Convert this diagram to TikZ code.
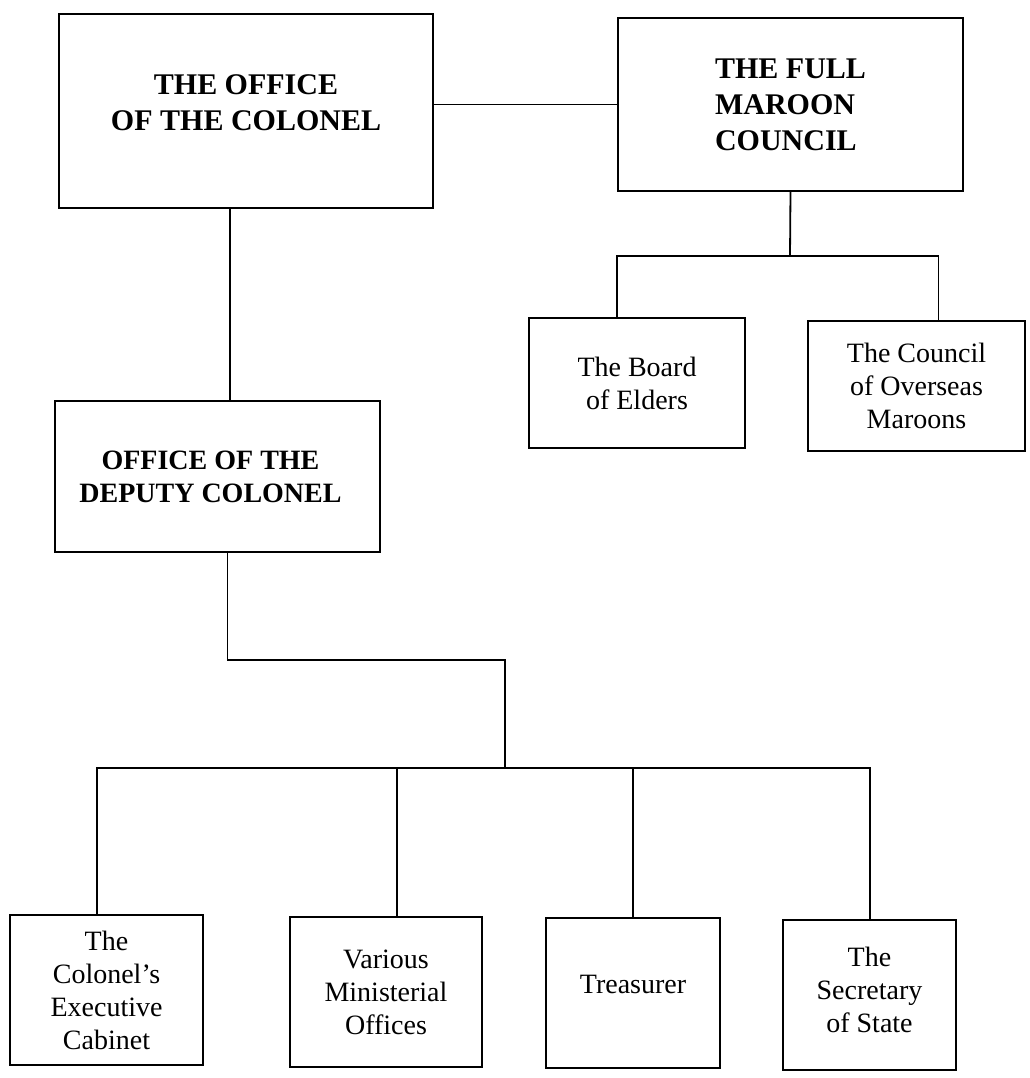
\documentclass[tikz,border=0pt]{standalone}
\usepackage{fontspec}
\setmainfont{Liberation Serif}
\usetikzlibrary{positioning}

\begin{document}
\begin{tikzpicture}[x=1pt, y=-1pt,
                    topbox/.style={rectangle, draw=black, line width=1.8pt, align=center, inner sep=0pt, outer sep=0pt, font=\fontsize{30}{36}\selectfont\bfseries},
                    midbox/.style={rectangle, draw=black, line width=1.8pt, align=center, inner sep=0pt, outer sep=0pt, font=\fontsize{28}{33}\selectfont\bfseries},
                    unitbox/.style={rectangle, draw=black, line width=1.8pt, align=center, inner sep=0pt, outer sep=0pt, font=\fontsize{28}{33}\selectfont},
                    link/.style={draw=black, line width=1.8pt}
                ]
                    \useasboundingbox (0,0) rectangle (1029,1078);
                    \node[topbox, minimum width=374pt, minimum height=194pt] (colonel) at (246,111) {THE OFFICE\\OF THE COLONEL\rule[-16pt]{0pt}{0pt}};
                    \node[topbox, minimum width=345pt, minimum height=173pt, align=left] (council) at (790.5,104.5) {THE FULL\\MAROON\\COUNCIL};
                    \node[unitbox, minimum width=216pt, minimum height=130pt] (board) at (637,383) {The Board\\of Elders};
                    \node[unitbox, minimum width=217pt, minimum height=130pt] (overseas) at (916.5,386) {The Council\\of Overseas\\Maroons};
                    \node[midbox, minimum width=325pt, minimum height=151pt] (deputy) at (217.5,476.5) {OFFICE OF THE\hspace*{14pt}\\DEPUTY COLONEL\hspace*{14pt}};
                    \node[unitbox, minimum width=193pt, minimum height=150pt] (cabinet) at (106.5,990) {The\\Colonel’s\\Executive\\Cabinet};
                    \node[unitbox, minimum width=192pt, minimum height=150pt] (ministerial) at (386,992) {Various\\Ministerial\\Offices};
                    \node[unitbox, minimum width=174pt, minimum height=150pt] (treasurer) at (633,993) {Treasurer\rule[-18pt]{0pt}{0pt}};
                    \node[unitbox, minimum width=173pt, minimum height=150pt] (secretary) at (869.5,995) {The\\Secretary\\of State\rule[-10pt]{0pt}{0pt}};

                    \coordinate (cjoin) at (790,256);
                    \coordinate (bend) at (505,660);
                    \coordinate (bjoin) at (505,768);

                    \draw[link] (colonel.east |- council) -- (council.west);
                    \draw[link] (council.south) -- (cjoin);
                    \draw[link] ([xshift=-20pt]board.north) |- (cjoin) -| ([xshift=22pt]overseas.north);
                    \draw[link] ([xshift=-16pt]colonel.south) -- ([xshift=-16pt]colonel.south |- deputy.north);
                    \draw[link] ([xshift=10pt]deputy.south) |- (bend) -- (bjoin);
                    \draw[link] ([xshift=-9.5pt]cabinet.north) |- (bjoin) -| ([xshift=0.5pt]secretary.north);
                    \draw[link] ([xshift=11pt]ministerial.north) -- ([xshift=11pt]ministerial.north |- bjoin);
                    \draw[link] (treasurer.north) -- (treasurer.north |- bjoin);
                \end{tikzpicture}
\end{document}
